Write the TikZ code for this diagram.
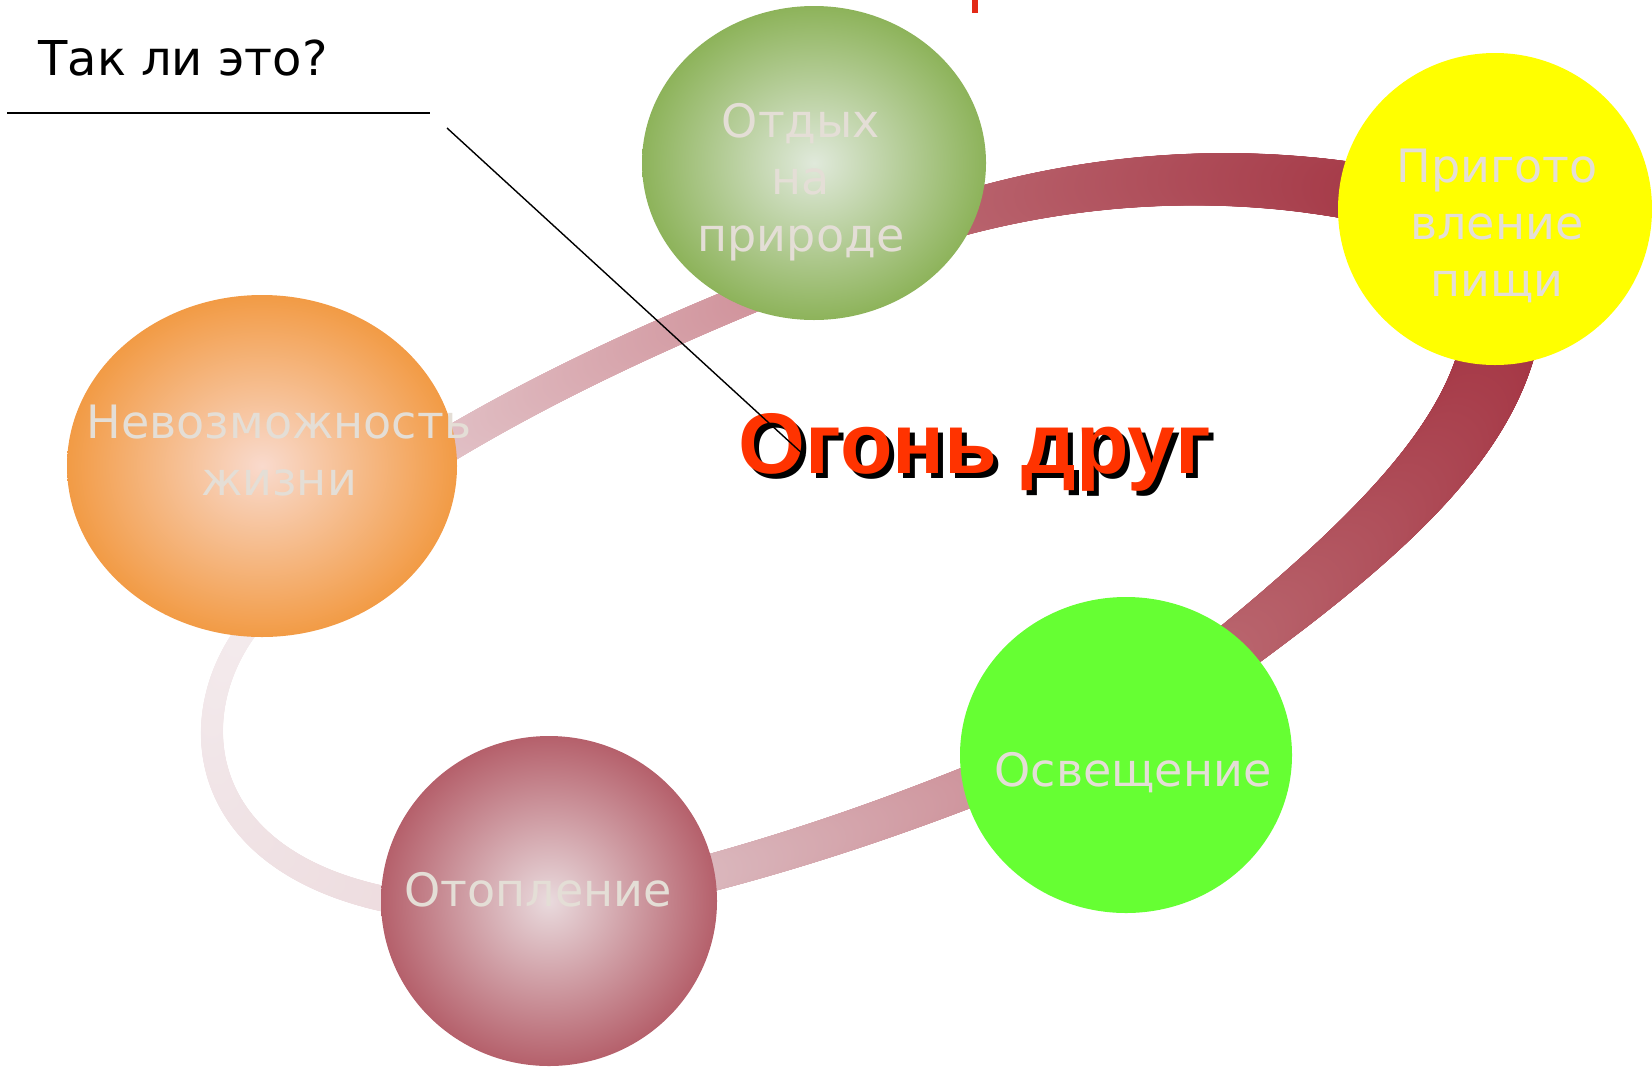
\documentclass[tikz,border=0pt]{standalone}
\usepackage{fontspec}
\newfontfamily\dvs{DejaVu Sans}
\newfontfamily\lsb{Liberation Sans}
\usetikzlibrary{shapes.geometric,decorations.markings}
\definecolor{txtc}{HTML}{E4DED6}
\definecolor{restin}{HTML}{E0E9DB}
\definecolor{restout}{HTML}{8DB35A}
\definecolor{nevin}{HTML}{F9DACD}
\definecolor{nevout}{HTML}{F29B45}
\definecolor{heatin}{HTML}{E9DADD}
\definecolor{heatout}{HTML}{B5606B}
\definecolor{cookc}{HTML}{FFFF00}
\definecolor{lightc}{HTML}{66FF33}
\definecolor{titlec}{HTML}{FF3300}
\definecolor{markc}{HTML}{E32A17}
\definecolor{aS}{HTML}{E3C5CA}
\definecolor{aE}{HTML}{CE8C95}
\definecolor{bS}{HTML}{C0737C}
\definecolor{bE}{HTML}{A43745}
\definecolor{cS}{HTML}{A2303F}
\definecolor{cE}{HTML}{BB6A72}
\definecolor{dS}{HTML}{CB8A93}
\definecolor{dE}{HTML}{DDBFC4}
\definecolor{eS}{HTML}{ECD9DC}
\definecolor{eE}{HTML}{F4ECEE}
\tikzset{
  bandseg/.style n args={4}{
    decoration={markings,
      mark=between positions 0 and 1 step 0.002 with {
        \pgfmathsetmacro\bt{min(1,(\pgfkeysvalueof{/pgf/decoration/mark info/sequence number}-1)*0.002)}
        \pgfmathsetmacro\bp{100*\bt}
        \pgfmathsetmacro\br{(#1+(#2-#1)*\bt)/4}
        \colorlet{tmpband}{#4!\bp!#3}
        \fill[tmpband] (0,0) circle (\br pt);
      }},
    decorate},
  blob/.style={ellipse, inner sep=0pt, outer sep=0pt, draw=none},
  lbl/.style={text=txtc, align=center, inner sep=0pt,
    font=\dvs\fontsize{23}{28.5}\selectfont},
  ttl/.style={inner sep=0pt, anchor=base, font=\lsb\bfseries\fontsize{43}{50}\selectfont}
}
\begin{document}
\begin{tikzpicture}[x=0.5pt,y=-0.5pt]
\useasboundingbox (0,0) rectangle (1652,1066);
% band end points (inside the ellipses)
\coordinate (a0) at (420,462);
\coordinate (a1) at (814,272);
\coordinate (b1) at (1420,205);
\coordinate (c0) at (1505,300);
\coordinate (c1) at (1180,690);
\coordinate (d0) at (1040,758);
\coordinate (d1) at (630,893);
\coordinate (e0) at (480,910);
\coordinate (e1) at (275,600);
% band
\path[bandseg={34}{31}{aS}{aE}] (a0) .. controls (520,400) and (640,340) .. (a1);
\path[bandseg={38}{60}{bS}{bE}] (a1) .. controls (950,200) and (1180,145) .. (b1);
\path[bandseg={78}{48}{cS}{cE}] (c0) .. controls (1500,430) and (1380,540) .. (c1);
\path[bandseg={42}{36}{dS}{dE}] (d0) .. controls (920,808) and (790,856) .. (d1);
\path[bandseg={27}{20}{eS}{eE}] (e0) .. controls (170,900) and (170,690) .. (e1);
% ellipses
\node[blob, minimum width=172pt, minimum height=157pt, inner color=restin, outer color=restout] (rest) at (814,163) {};
\node[blob, minimum width=157pt, minimum height=156pt, fill=cookc] (cook) at (1495,209) {};
\node[blob, minimum width=195pt, minimum height=171pt, inner color=nevin, outer color=nevout] (nev) at (262,466) {};
\node[blob, minimum width=168pt, minimum height=165pt, inner color=heatin, outer color=heatout] (heat) at (549,901) {};
\node[blob, minimum width=166pt, minimum height=158pt, fill=lightc] (light) at (1126,755) {};
% labels
\node[lbl] (restt) at (801,182) {Отдых\\на\\природе};
\node[lbl] (cookt) at (1497,226) {Пригото\\вление\\пищи};
\node[lbl] (nevt) at (279,451) {Невозможность\\жизни};
\node[lbl] (heatt) at (538,890) {Отопление};
\node[lbl] (lightt) at (1133,773) {Освещение};
% title with shadow
\node[ttl, text=black] (titles) at (980,478) {Огонь друг};
\node[ttl, text=titlec] (title) at (975,473) {Огонь друг};
% question and callout
\node[inner sep=0pt, font=\dvs\fontsize{24}{29}\selectfont] (q) at (183,58) {Так ли это?};
\coordinate (h0) at (7,113);
\coordinate (h1) at (430,113);
\coordinate (k0) at (447,128);
\coordinate (k1) at (805,456);
\draw[line width=1.1pt] (h0) -- (h1);
\draw[line width=0.7pt] (k0) -- (k1);
% red mark at top
\fill[markc] (972,0) rectangle (978,13);
\end{tikzpicture}
\end{document}
